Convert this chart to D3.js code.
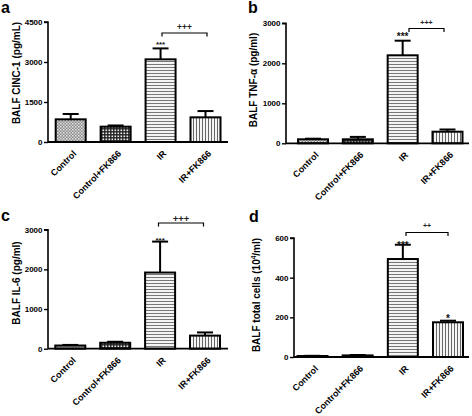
<!DOCTYPE html>
<html><head><meta charset="utf-8">
<script src="https://cdn.jsdelivr.net/npm/d3@7"></script>
<style>
html,body{margin:0;padding:0;background:#fff;}
svg{display:block;font-family:Arial,"Liberation Sans",sans-serif;font-weight:bold;}
</style></head>
<body><svg id="c" width="472" height="416"></svg>
<script>
// ---- data ----
const categories = ["Control", "Control+FK866", "IR", "IR+FK866"];
const cinc1Mean = [850, 575, 3100, 925];
const cinc1Err  = [200, 45, 410, 235];
const tnfMean   = [100, 100, 2200, 290];
const tnfErr    = [15, 60, 365, 55];
const il6Mean   = [80, 150, 1920, 330];
const il6Err    = [15, 25, 780, 80];
const cellsMean = [5, 8, 494, 175];
const cellsErr  = [1, 2, 72, 8];
const cinc1Ticks = [0, 1500, 3000, 4500];
const tnfTicks   = [0, 1000, 2000, 3000];
const il6Ticks   = [0, 1000, 2000, 3000];
const cellsTicks = [0, 200, 400, 600];
const panelLetters = ["a", "b", "c", "d"];
const yTitles = [["BALF CINC-1 (pg/mL)"], ["BALF TNF-\u03B1 (pg/ml)"], ["BALF IL-6 (pg/ml)"], ["BALF total cells (10", "4", "/ml)"]];
const starMarks = [["", "", "***", ""], ["", "", "***", ""], ["", "", "***", ""], ["", "", "***", "*"]];
const bracketMarks = ["+++", "+++", "+++", "++"];

const svg = d3.select("#c");
const defs = svg.append("defs");

// patterns
const p1 = defs.append("pattern").attr("id","pCtrl").attr("width",3).attr("height",3).attr("patternUnits","userSpaceOnUse");
p1.append("rect").attr("width",3).attr("height",3).attr("fill","#8a8a8a");
p1.append("rect").attr("x",0).attr("y",0).attr("width",1.5).attr("height",1.5).attr("fill","#e6e6e6");
p1.append("rect").attr("x",1.5).attr("y",1.5).attr("width",1.5).attr("height",1.5).attr("fill","#cfcfcf");
const p2 = defs.append("pattern").attr("id","pCtrlFK").attr("width",3).attr("height",3).attr("patternUnits","userSpaceOnUse");
p2.append("rect").attr("width",3).attr("height",3).attr("fill","#222");
p2.append("rect").attr("x",0.5).attr("y",0.5).attr("width",1.6).attr("height",1.6).attr("fill","#f0f0f0");
const p3 = defs.append("pattern").attr("id","pIR").attr("width",4).attr("height",3).attr("patternUnits","userSpaceOnUse");
p3.append("rect").attr("width",4).attr("height",3).attr("fill","#f4f4f4");
p3.append("rect").attr("y",1).attr("width",4).attr("height",1).attr("fill","#777");
const p4 = defs.append("pattern").attr("id","pIRFK").attr("width",3).attr("height",4).attr("patternUnits","userSpaceOnUse");
p4.append("rect").attr("width",3).attr("height",4).attr("fill","#f4f4f4");
p4.append("rect").attr("x",1).attr("width",1).attr("height",4).attr("fill","#666");
const fills = ["url(#pCtrl)","url(#pCtrlFK)","url(#pIR)","url(#pIRFK)"];

// panel layouts
const panels = [
  {mean:cinc1Mean, err:cinc1Err, ticks:cinc1Ticks, ax:48,  y0:142,   yTop:22,    xEnd:228, c0:70.7,  c1:205.5, title:{x:16, y:73},
   letter:{x:1, y:13}, bracket:{y:33, x0:162, x1:207, ty:29.5, fs:8.5}, starFs:8, starDy:[0,0,-1.3,0]},
  {mean:tnfMean, err:tnfErr, ticks:tnfTicks, ax:286, y0:143.3, yTop:23.3,  xEnd:469, c0:313,   c1:447.5, title:{x:253, y:80},
   letter:{x:248, y:13}, bracket:{y:28.5, x0:409, x1:444, ty:24.5, fs:7}, starFs:10, starDy:[0,0,-0.7,0]},
  {mean:il6Mean, err:il6Err, ticks:il6Ticks, ax:48,  y0:348.7, yTop:229.7, xEnd:228, c0:70.3,  c1:205,   title:{x:16, y:283},
   letter:{x:1, y:221}, bracket:{y:223, x0:158.5, x1:203.5, ty:221.5, fs:9.5}, starFs:8, starDy:[0,0,1,0]},
  {mean:cellsMean, err:cellsErr, ticks:cellsTicks, ax:294, y0:357, yTop:238, xEnd:469, c0:312.5, c1:448, title:{x:256, y:295},
   letter:{x:249, y:222}, bracket:{y:232.5, x0:406, x1:448, ty:227.5, fs:7}, starFs:10, starDy:[0,0,4,1]}
];

panels.forEach((P, pi) => {
  const g = svg.append("g");
  const top = P.ticks[P.ticks.length-1];
  const y = d3.scaleLinear().domain([0, top]).range([P.y0, P.yTop]);
  const x = d3.scalePoint().domain(categories).range([P.c0, P.c1]);
  const bw = 30;

  categories.forEach((c, i) => {
    const cx = x(c);
    const v = P.mean[i], e = P.err[i];
    g.append("line").attr("x1",cx).attr("x2",cx).attr("y1",y(v)).attr("y2",y(v+e)).attr("stroke","#000").attr("stroke-width",2);
    g.append("line").attr("x1",cx-8).attr("x2",cx+8).attr("y1",y(v+e)).attr("y2",y(v+e)).attr("stroke","#000").attr("stroke-width",2);
    g.append("rect").attr("x",cx-bw/2).attr("y",y(v)).attr("width",bw).attr("height",Math.max(0,P.y0-y(v)))
      .attr("fill",fills[i]).attr("stroke","#000").attr("stroke-width",2);
  });
  categories.forEach((c, i) => {
    const s = starMarks[pi][i];
    if (s) {
      const v = P.mean[i], e = P.err[i];
      g.append("text").attr("x",x(c)).attr("y",y(v+e)+P.starDy[i])
        .attr("text-anchor","middle").attr("font-size",s.length===1?10:P.starFs).attr("fill","#111").text(s);
    }
  });

  const yAxis = d3.axisLeft(y).tickValues(P.ticks).tickSize(4).tickPadding(1.5).tickFormat(d3.format("d"));
  const ga = g.append("g").attr("transform",`translate(${P.ax},0)`).call(yAxis);
  ga.select(".domain").attr("stroke","#000").attr("stroke-width",1.6).attr("d",`M-4,${P.yTop}H0V${P.y0}`);
  ga.selectAll(".tick line").attr("stroke","#000").attr("stroke-width",1.4);
  ga.selectAll(".tick text").attr("font-size",8).attr("font-weight","bold").attr("fill","#000").attr("font-family","Arial, 'Liberation Sans', sans-serif");

  g.append("line").attr("x1",P.ax).attr("x2",P.xEnd).attr("y1",P.y0).attr("y2",P.y0).attr("stroke","#000").attr("stroke-width",1.8);

  categories.forEach(c => {
    const ax = x(c) + 4, ay = P.y0 + 10;
    g.append("text").attr("transform",`translate(${ax},${ay}) rotate(-45)`)
      .attr("text-anchor","end").attr("dy","0.35em").attr("font-size",9).attr("fill","#000").text(c);
  });

  const t = g.append("text").attr("transform",`translate(${P.title.x},${P.title.y}) rotate(-90)`)
    .attr("text-anchor","middle").attr("dy","0.35em").attr("font-size",10).attr("fill","#000");
  const parts = yTitles[pi];
  t.append("tspan").text(parts[0]);
  if (parts.length > 1) {
    t.append("tspan").attr("font-size",6.5).attr("dy","-4").text(parts[1]);
    t.append("tspan").attr("dy","4").text(parts[2]);
  }

  g.append("text").attr("x",P.letter.x).attr("y",P.letter.y).attr("font-size",16).attr("fill","#000").text(panelLetters[pi]);

  const B = P.bracket;
  g.append("path").attr("d",`M${B.x0},${B.y+3.5}V${B.y}H${B.x1}V${B.y+3.5}`).attr("fill","none").attr("stroke","#000").attr("stroke-width",1.2);
  g.append("text").attr("x",(B.x0+B.x1)/2).attr("y",B.ty).attr("text-anchor","middle").attr("font-size",B.fs).attr("fill","#222").text(bracketMarks[pi]);
});
</script></body></html>
